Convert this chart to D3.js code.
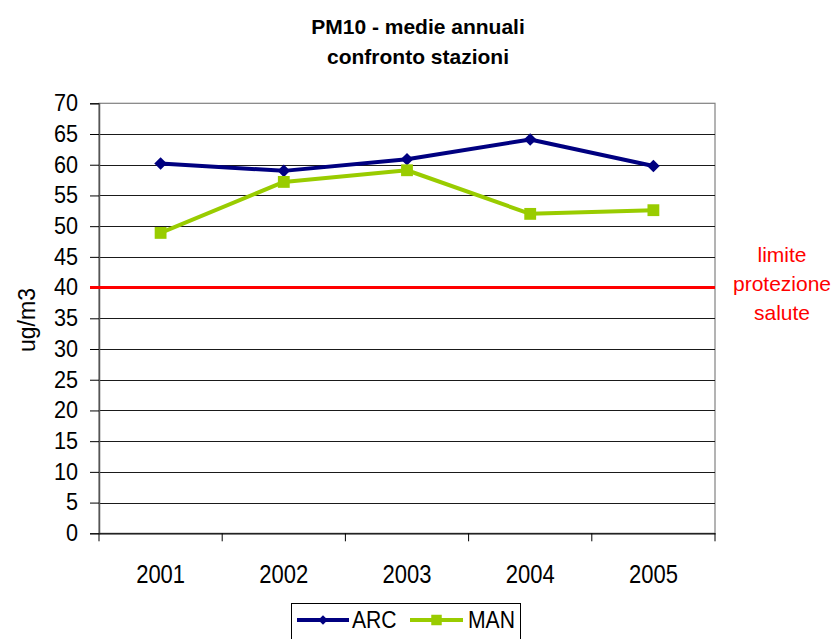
<!DOCTYPE html>
<html>
<head>
<meta charset="utf-8">
<script src="https://cdn.jsdelivr.net/npm/d3@7"></script>
<style>
  html, body { margin: 0; padding: 0; background: #fff; }
  svg text { font-family: "Liberation Sans", Arial, sans-serif; }
</style>
</head>
<body>
<svg id="chart" width="835" height="639"></svg>
<script>
// Annual PM10 means per monitoring station
const years = ["2001", "2002", "2003", "2004", "2005"];
const arcValues = [60.2, 59.0, 60.9, 64.1, 59.8];
const manValues = [48.9, 57.2, 59.1, 52.0, 52.6];
const yTicks = [0, 5, 10, 15, 20, 25, 30, 35, 40, 45, 50, 55, 60, 65, 70];
const limitValue = 40;
const limitLabel = ["limite", "protezione", "salute"];
const titleLines = ["PM10 - medie annuali", "confronto stazioni"];

const series = [
  { name: "ARC", values: arcValues, color: "#000080", marker: "diamond" },
  { name: "MAN", values: manValues, color: "#99CC00", marker: "square" }
];

const svg = d3.select("#chart");
const plotLeft = 99, plotRight = 715, plotTop = 103.3, plotBottom = 533.3;

const x = d3.scaleBand().domain(years).range([plotLeft, plotRight]);
const y = d3.scaleLinear().domain([0, 70]).range([plotBottom, plotTop]);

// Title
const title = svg.append("text")
  .attr("x", 418).attr("text-anchor", "middle")
  .attr("font-size", 21).attr("font-weight", "bold").attr("fill", "#000");
titleLines.forEach((t, i) => {
  title.append("tspan").attr("x", 418).attr("y", 34 + i * 30).text(t);
});

// Plot area border
svg.append("rect")
  .attr("x", plotLeft).attr("y", plotTop)
  .attr("width", plotRight - plotLeft).attr("height", plotBottom - plotTop)
  .attr("fill", "none").attr("stroke", "#808080").attr("stroke-width", 1.2);

// Horizontal gridlines
svg.append("g").selectAll("line")
  .data(yTicks.filter(v => v > 0 && v < 70))
  .join("line")
  .attr("x1", plotLeft).attr("x2", plotRight)
  .attr("y1", d => Math.round(y(d)) + 0.5).attr("y2", d => Math.round(y(d)) + 0.5)
  .attr("stroke", "#1a1a1a").attr("stroke-width", 1);

// Narrow the glyphs horizontally, keeping each label anchored in place
function squeeze(sel, sx) {
  sel.each(function () {
    const t = d3.select(this);
    const x0 = +(t.attr("x") || 0);
    t.attr("x", x0 / sx).attr("transform", `scale(${sx},1)`);
  });
}

// Y axis
const yAxis = svg.append("g")
  .attr("transform", `translate(${plotLeft},0)`)
  .call(d3.axisLeft(y).tickValues(yTicks).tickSize(9).tickPadding(12).tickFormat(d3.format("d")));
yAxis.select(".domain").attr("stroke", "#555").attr("stroke-width", 1.5);
yAxis.selectAll(".tick line").attr("stroke", "#000");
yAxis.selectAll(".tick text")
  .attr("font-size", 23).attr("fill", "#000")
  .attr("font-family", "Liberation Sans, Arial, sans-serif");
squeeze(yAxis.selectAll(".tick text"), 0.94);

// X axis with ticks at category boundaries
const xAxis = svg.append("g")
  .attr("transform", `translate(0,${plotBottom})`)
  .call(d3.axisBottom(x).tickSize(0).tickPadding(32));
xAxis.select(".domain").attr("stroke", "#000").attr("stroke-width", 1.2);
xAxis.selectAll(".tick text")
  .attr("font-size", 25).attr("fill", "#000")
  .attr("font-family", "Liberation Sans, Arial, sans-serif");
squeeze(xAxis.selectAll(".tick text"), 0.88);
xAxis.selectAll(".boundary")
  .data(years.map(d => x(d)).concat([plotRight]))
  .join("line")
  .attr("class", "boundary")
  .attr("x1", d => d).attr("x2", d => d)
  .attr("y1", 0).attr("y2", 8)
  .attr("stroke", "#000");

// Y axis title
svg.append("text")
  .attr("transform", "translate(35,320) rotate(-90)")
  .attr("text-anchor", "middle")
  .attr("font-size", 23).attr("fill", "#000")
  .text("ug/m3");

// Limit line
svg.append("line")
  .attr("x1", 90).attr("x2", plotRight)
  .attr("y1", y(limitValue)).attr("y2", y(limitValue))
  .attr("stroke", "#FF0000").attr("stroke-width", 3);

const limitText = svg.append("text")
  .attr("text-anchor", "middle").attr("font-size", 21).attr("fill", "#FF0000");
limitLabel.forEach((t, i) => {
  limitText.append("tspan").attr("x", 782).attr("y", 262 + i * 29).text(t);
});

// Series lines and markers
const cx = d => x(d) + x.bandwidth() / 2;
const line = d3.line().x((d, i) => cx(years[i])).y(d => y(d));

function markerPath(kind, big) {
  if (kind === "diamond") return d3.symbol(d3.symbolSquare, big ? 80 : 45)();
  return d3.symbol(d3.symbolSquare, big ? 140 : 110)();
}
function markerTransform(kind, px, py) {
  return kind === "diamond" ? `translate(${px},${py}) rotate(45)` : `translate(${px},${py})`;
}

series.forEach(s => {
  svg.append("path")
    .datum(s.values)
    .attr("d", line)
    .attr("fill", "none")
    .attr("stroke", s.color)
    .attr("stroke-width", 4)
    .attr("stroke-linejoin", "round");
  svg.append("g").selectAll("path")
    .data(s.values)
    .join("path")
    .attr("d", markerPath(s.marker, true))
    .attr("transform", (d, i) => markerTransform(s.marker, cx(years[i]), y(d)))
    .attr("fill", s.color);
});

// Legend
const legend = svg.append("g");
legend.append("rect")
  .attr("x", 291.5).attr("y", 603.5).attr("width", 229).attr("height", 40)
  .attr("fill", "#fff").attr("stroke", "#000").attr("stroke-width", 1);
const legendItems = [
  { s: series[0], x0: 297, x1: 349, tx: 352 },
  { s: series[1], x0: 410, x1: 463, tx: 468 }
];
legendItems.forEach(it => {
  const ly = 620;
  legend.append("line")
    .attr("x1", it.x0).attr("x2", it.x1).attr("y1", ly).attr("y2", ly)
    .attr("stroke", it.s.color).attr("stroke-width", 4);
  legend.append("path")
    .attr("d", markerPath(it.s.marker, false))
    .attr("transform", markerTransform(it.s.marker, (it.x0 + it.x1) / 2, ly))
    .attr("fill", it.s.color);
  const lt = legend.append("text")
    .attr("x", it.tx).attr("y", ly + 8)
    .attr("font-size", 23).attr("fill", "#000")
    .text(it.s.name);
  squeeze(lt, 0.92);
});
</script>
</body>
</html>
